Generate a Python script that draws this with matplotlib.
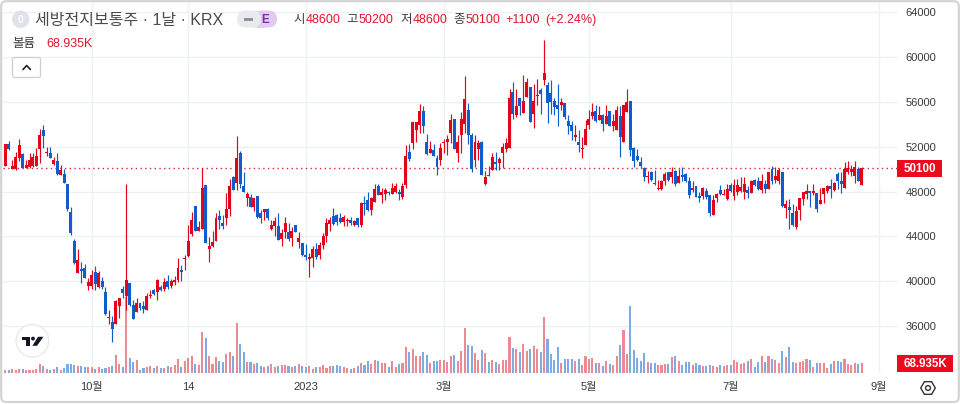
import numpy as np
import matplotlib
matplotlib.use("Agg")
import matplotlib.pyplot as plt
from matplotlib.patches import FancyBboxPatch, Circle, Polygon, Rectangle

plt.rcParams['font.family'] = ['Liberation Sans', 'Noto Sans CJK KR', 'DejaVu Sans']

opens = [
50300,52250,50000,50000,51000,51350,50100,50200,50250,50250,
51800,53500,51450,51450,50450,50700,49500,49550,48650,46200,
43600,40700,41050,41150,39600,39600,40850,39450,40000,39050,
36750,36350,36200,37800,39300,38650,39850,37850,37300,38050,
37800,37450,38700,39200,39000,39500,39300,40000,39600,39900,
40100,41000,41950,42250,44200,46700,44500,44650,48600,42900,
43100,43600,45800,45150,45650,46450,49300,48800,51450,48500,
47400,47500,46600,47600,46050,46150,46450,44650,44950,44950,
43750,44350,44350,43900,45000,43500,43450,42300,41950,42100,
42900,42300,43200,44000,45100,45800,45900,45650,45300,45400,
45500,45000,45600,45000,47000,47250,46350,47100,48450,47700,
47800,47950,47800,47950,48000,47550,48600,51500,52300,53500,
53900,55150,52450,51450,51700,50950,50800,52300,52400,53200,
54450,51450,53000,54000,55250,53000,50800,51800,52450,48650,
49450,49900,50600,50550,51450,51750,51900,56900,54800,56350,
55000,56400,57300,54900,56550,57050,57950,57500,56800,56100,
55700,55700,55900,54300,53900,52900,52400,51750,52150,53900,
54750,55150,54350,54850,54000,55150,53800,53500,54750,52450,
55100,56050,51900,51150,50650,50050,49250,49750,48800,48200,
48200,48950,49700,49250,49850,48800,49500,49600,48950,48100,
48450,47600,47600,48050,47650,45950,47450,48100,47700,47300,
48600,47600,48000,48050,47950,48150,47900,49050,48950,48150,
48650,48200,50000,49050,48950,49750,46550,46600,46050,44800,
46350,47350,47750,48050,47850,47850,46900,47800,48050,48500,
48150,49600,48950,48350,49750,49750,49400,50000,48600]

highs = [
52250,52500,50800,51500,52700,51400,50850,51450,51400,51900,
53550,53950,51950,51950,51100,51400,50350,50000,48650,46600,
43750,42850,41700,41550,40250,41000,41350,40950,40400,39450,
37400,36900,38300,38550,39600,48650,39850,38300,38500,38100,
38200,38950,39250,39350,40200,39700,40300,40550,40200,40450,
42050,41450,42350,45000,46150,46700,45400,50050,48600,43950,
44500,46100,46350,45900,47850,49100,49350,52950,51600,49700,
47950,47750,47450,47600,46350,46450,46500,45450,45700,46050,
44700,45700,45150,44800,45000,44400,43450,43300,42500,43100,
43400,43500,44300,45600,45700,46500,46000,46050,45900,45600,
45700,45500,45650,47050,47600,48000,47550,48650,48650,48350,
48300,48050,48750,48750,48200,48750,52150,52250,54200,54200,
55800,55600,53100,52500,52250,51250,52350,52650,53000,54900,
54500,53050,55100,58300,55850,53200,53050,52600,52500,49850,
50250,51450,51550,51100,52350,52750,57100,57750,57100,56350,
58400,58100,57300,57550,58000,57200,61500,57800,57950,56300,
57550,56300,55900,54800,54300,53950,53500,52850,54350,55250,
55850,55700,55650,54900,55750,55150,54950,55650,55650,55700,
57150,56100,51950,51800,51100,50200,49850,49800,49900,49050,
49050,49700,49750,50150,49950,50000,50150,49650,49250,48950,
48500,48000,48400,48300,47700,47700,47850,48600,48200,48650,
48750,49100,49100,49250,49300,48500,49050,49100,49250,49550,
49050,49750,50250,50150,50050,49750,47250,47300,46850,46700,
47400,48000,48650,48050,48650,47900,48350,48350,48600,49100,
48850,49700,49700,50600,50700,50350,50700,50150,50200]

lows = [
50300,51700,50000,49900,50750,50050,50050,50050,50200,50250,
50550,51850,51150,50950,50400,49450,49450,48750,46300,44150,
41550,40700,39850,40300,39200,39350,39200,39400,39350,37000,
36200,34600,36200,36750,38500,37450,37800,36650,37250,37400,
37200,37450,38500,38800,38350,39100,39100,39300,39400,39700,
39900,40000,41000,42200,44050,44500,44500,44650,43400,41750,
43050,43600,44700,44700,45000,45800,48100,48150,48300,47950,
46700,46600,46250,45600,45200,45450,45500,44550,44050,43700,
43100,43850,43600,43150,44350,43000,42250,41900,40400,41250,
42000,42000,42900,43500,44500,45000,45000,45150,44900,44900,
45000,44900,44800,44800,45900,46300,45900,47050,47650,47000,
47250,47700,47800,47850,47250,47300,48350,50750,51800,52400,
53250,53200,51250,51400,51150,49450,50350,51450,51250,52300,
51800,50650,51400,53200,52250,49750,50200,50800,49450,48600,
49400,49900,49900,49900,50050,51500,51900,54500,54650,54800,
55000,56400,54200,53700,55750,54950,57450,54100,54950,54850,
53850,55250,54500,53150,52550,52500,51500,51000,52150,53550,
54500,54150,54350,53350,54000,53850,53400,53500,51100,52450,
55100,51200,50200,50700,50100,48900,48750,48950,48600,48150,
48100,48600,48950,48750,48500,48750,48900,48850,47450,48000,
47500,47050,47300,47300,45850,45950,47100,47650,47700,47250,
48000,47250,47700,48000,47350,47400,47900,48500,48150,47850,
47850,48200,48700,48750,48650,46650,45650,44700,44950,44700,
45500,46800,47350,46650,47700,46150,46900,47000,47850,47450,
48050,48200,47900,48350,49600,49400,48800,48900,48600]

closes = [
52250,51750,50300,51100,52150,50050,50350,50800,51100,51150,
53050,52950,51500,51000,50800,49550,49900,48800,46450,44300,
41650,41900,40950,40300,39900,40550,39750,40700,39450,37100,
36800,35750,38250,38500,38950,40150,37900,36650,38050,37600,
37550,38700,38800,38850,40100,39250,39900,39500,40000,40150,
41150,40850,42100,43600,45450,44500,44850,48300,43400,43150,
43500,45650,45450,44950,46450,48500,48150,51000,48650,47950,
47800,46600,47450,45700,45650,46450,45650,45000,45350,43700,
44300,45150,43750,44500,44400,43900,42300,42200,42200,42900,
42200,43200,44000,45200,45500,45100,45300,45300,45700,45500,
45200,45400,45000,47000,46900,46350,47450,48250,47700,47950,
48150,47850,48350,48450,47800,48450,51150,50900,54200,54200,
55150,53850,51300,51800,51200,50200,51900,52350,52700,54350,
51800,52400,54450,56250,53050,50000,52400,52300,49450,49250,
49400,51100,50450,50900,51950,52300,56350,54950,55600,55650,
56050,57800,54200,56050,56600,56650,58550,55900,56000,55550,
55350,56000,54650,53850,53400,53050,52100,51850,53550,54450,
55050,54300,54800,54050,54750,53850,54300,55250,52900,55700,
55950,51700,50700,50850,50300,49250,49400,49050,48650,48300,
48950,49600,49050,49750,48650,49400,49300,48900,47700,48350,
47550,47400,48350,47500,46100,47250,47750,47800,47800,48250,
48050,48550,48600,48400,48650,47900,48950,48550,48200,48900,
48250,49750,48900,49400,49900,46700,46900,46350,45000,46300,
47400,48000,48050,47850,48050,46450,47250,48350,48500,48200,
48800,48950,48700,50000,50050,50000,50200,48950,50100]

volumes_k = [
19,19,28,19,31,31,19,19,21,31,62,47,28,24,28,40,19,33,62,62,
57,47,47,40,40,40,31,40,28,36,43,50,126,62,40,540,109,76,90,24,
36,43,52,36,52,33,33,52,43,57,102,43,85,104,119,66,57,290,247,119,
64,111,83,76,133,152,123,356,209,147,76,76,66,71,47,43,47,66,43,47,
57,57,52,40,52,62,52,40,52,28,43,43,57,36,52,52,57,50,43,33,
26,33,47,71,57,85,66,90,85,71,71,43,85,43,64,71,185,147,168,119,
119,147,128,71,83,85,90,90,76,123,126,85,154,318,197,190,142,90,161,142,
78,90,76,66,90,90,254,180,168,147,204,154,168,190,168,147,396,239,133,90,
183,69,97,97,97,83,97,55,119,100,104,69,69,47,83,62,55,119,197,303,
133,481,161,104,83,140,76,69,69,55,55,62,62,111,119,83,55,76,76,55,
69,55,47,47,55,47,40,55,47,55,55,90,76,62,69,83,97,40,76,119,
76,119,97,90,69,154,111,183,76,69,76,83,97,90,40,69,69,69,33,62,
83,83,76,97,62,55,69,62,68.935]

y_ticks = [36000, 40000, 44000, 48000, 52000, 56000, 60000, 64000]
x_tick_idx = [25, 53, 87, 127, 169, 210, 253]
x_tick_labels = ['10월', '14', '2023', '3월', '5월', '7월', '9월']
last_close = 50100

RED, BLUE = '#e2041a', '#0f5ccb'
VRED, VBLUE = '#ea8b94', '#7eabe2'
GRID = '#eff1f1'
W, H = 960, 404
L, R, T, B = 3, 897, 3, 373

fig = plt.figure(figsize=(W / 100, H / 100), dpi=100, facecolor='white')
rect = [L / W, 1 - B / H, (R - L) / W, (B - T) / H]
xlim = (-0.675, 258.2)
ylim = (31824, 64800)
vmax = (B - T) / 0.1403

n = len(closes)
xs = np.arange(n)
o, h, l, c = map(np.array, (opens, highs, lows, closes))
up = c >= o
colors = np.where(up, RED, BLUE)
vcolors = np.where(up, VRED, VBLUE)

ax_g = fig.add_axes(rect, zorder=1)
ax_g.set_xlim(xlim)
ax_g.set_ylim(ylim)
ax_g.set_xticks(x_tick_idx, x_tick_labels)
ax_g.set_yticks(y_ticks, [str(t) for t in y_ticks])
ax_g.yaxis.tick_right()
ax_g.grid(True, color=GRID, lw=1)
ax_g.set_axisbelow(True)
ax_g.tick_params(axis='both', length=0, labelsize=8, labelcolor='#3a3a3a')
ax_g.tick_params(axis='x', pad=6.2)
ax_g.tick_params(axis='y', pad=6.3)
for s in ax_g.spines.values():
    s.set_visible(False)

ax_v = fig.add_axes(rect, zorder=2)
ax_v.patch.set_visible(False)
ax_v.set_xlim(xlim)
ax_v.set_ylim(0, vmax)
ax_v.axis('off')
ax_v.bar(xs, volumes_k, width=0.6, color=vcolors, linewidth=0)

ax_p = fig.add_axes(rect, zorder=3)
ax_p.patch.set_visible(False)
ax_p.set_xlim(xlim)
ax_p.set_ylim(ylim)
ax_p.axis('off')
ax_p.vlines(xs, l, h, colors=colors, lw=0.85, zorder=2)
body = np.maximum(np.abs(c - o), 90)
ax_p.bar(xs, body, bottom=np.minimum(o, c), width=0.86, color=colors, linewidth=0, zorder=3)
ax_p.axhline(last_close, color='#d8283a', lw=1.0, ls=(0, (1, 2.4)), zorder=1)

ov = fig.add_axes([0, 0, 1, 1], zorder=5)
ov.patch.set_visible(False)
ov.set_xlim(0, W)
ov.set_ylim(H, 0)
ov.axis('off')

# outer frame
ov.add_patch(FancyBboxPatch((1.2, 1.2), W - 2.4, H - 3.2, boxstyle='round,pad=0,rounding_size=5',
                            fc='none', ec='#d4d4d4', lw=1.6))

# header
ov.add_patch(Circle((20.7, 19.3), 8.7, fc='#dfe2ea', ec='none'))
ov.text(20.7, 19.6, '0', color='white', fontsize=7.5, ha='center', va='center', fontweight='bold')
ov.text(35, 20, '세방전지보통주 · 1날 · KRX', color='#4a4a4a', fontsize=11.5, ha='left', va='center')

ov.add_patch(FancyBboxPatch((254, 10.5), 23, 17, boxstyle='round,pad=0,rounding_size=8.5',
                            fc='#e2cbee', ec='none'))
ov.add_patch(Rectangle((257, 10.5), 8, 17, fc='#e2cbee', ec='none'))
ov.add_patch(FancyBboxPatch((237, 10.5), 24, 17, boxstyle='round,pad=0,rounding_size=8.5',
                            fc='#e8eaee', ec='none'))
ov.add_patch(Rectangle((252, 10.5), 5, 17, fc='#e8eaee', ec='none'))
ov.add_patch(Rectangle((243.5, 17.5), 9.5, 3.2, fc='#8f939b', ec='none'))
ov.text(265.5, 19.6, 'E', color='#7b2d9a', fontsize=8.5, fontweight='bold', ha='center', va='center')

dark = '#3f3f3f'
red_t = '#e0162b'
segments = [(293, '시', dark), (306, '48600', red_t), (346, '고', dark), (359, '50200', red_t),
            (400, '저', dark), (413, '48600', red_t), (453, '종', dark), (466, '50100', red_t),
            (505, '+1100', red_t), (545, '(+2.24%)', red_t)]
for xp, s, col in segments:
    ov.text(xp, 20, s, color=col, fontsize=9, ha='left', va='center')

ov.text(12.5, 44, '볼륨', color=dark, fontsize=9, ha='left', va='center')
ov.text(46, 44, '68.935K', color=red_t, fontsize=9, ha='left', va='center')

# collapse button
ov.add_patch(FancyBboxPatch((12.5, 57.5), 28, 20, boxstyle='round,pad=0,rounding_size=2',
                            fc='white', ec='#cfcfcf', lw=0.9))
ov.plot([23, 26.7, 30.4], [69.5, 65.5, 69.5], color='#222222', lw=1.2, solid_capstyle='round')

# last value labels
ov.add_patch(Rectangle((897, 160), 45, 17, fc='#ee0a1e', ec='none'))
ov.text(919.5, 168.8, '50100', color='white', fontsize=8.3, fontweight='bold', ha='center', va='center')
ov.add_patch(Rectangle((897, 355), 56, 17, fc='#ee0a1e', ec='none'))
ov.text(925, 363.8, '68.935K', color='white', fontsize=8.3, fontweight='bold', ha='center', va='center')

# logo
ov.add_patch(Circle((32.4, 340.8), 16.3, fc='white', ec='#e9e9e9', lw=1.0))
ov.add_patch(Polygon([(22, 336.8), (30.2, 336.8), (30.2, 345.8), (26, 345.8), (26, 340.2), (22, 340.2)],
                     fc='#131722', ec='none'))
ov.add_patch(Circle((33, 338.6), 1.9, fc='#131722', ec='none'))
ov.add_patch(Polygon([(38, 336.8), (43.4, 336.8), (37, 345.8), (32.4, 345.8)], fc='#131722', ec='none'))

# settings hexagon
cx, cy = 928, 388
ov.add_patch(Polygon([(cx - 7.3, cy), (cx - 3.6, cy - 6.3), (cx + 3.6, cy - 6.3),
                      (cx + 7.3, cy), (cx + 3.6, cy + 6.3), (cx - 3.6, cy + 6.3)],
                     fc='none', ec='#333333', lw=1.0))
ov.add_patch(Circle((cx, cy), 2.4, fc='none', ec='#333333', lw=1.0))

fig.savefig('out.png', dpi=100)
